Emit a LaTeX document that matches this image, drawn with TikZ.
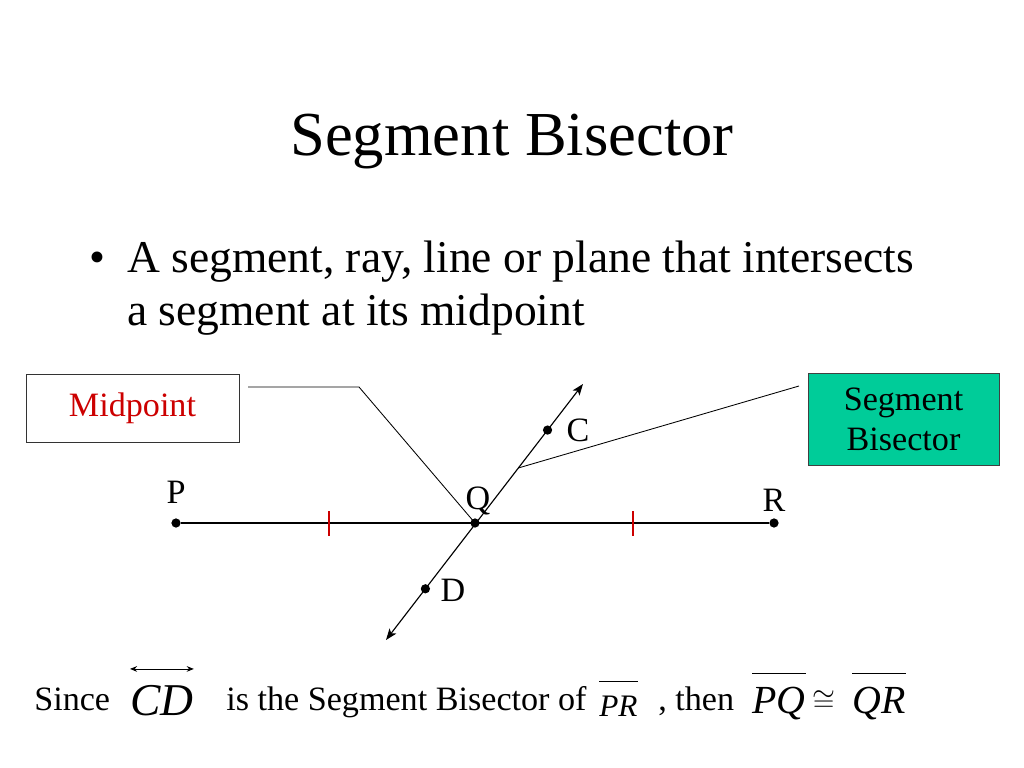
\documentclass[tikz,border=0pt]{standalone}
\usepackage{fontspec}
\setmainfont{Liberation Serif}
\usetikzlibrary{arrows.meta,calc}
\definecolor{bisteal}{RGB}{0,204,153}
\definecolor{midred}{RGB}{204,0,0}
\begin{document}
\begin{tikzpicture}[x=0.703125pt, y=-0.703125pt, >={Stealth[length=8pt,width=6pt,inset=2pt]},
    lbl/.style={font=\fontsize{24}{28}\selectfont, anchor=base, inner sep=0},
    txt/.style={font=\fontsize{24}{28}\selectfont, anchor=base west, inner sep=0},
    dot/.style={circle, fill, inner sep=0, minimum size=6.5pt}]
      % \draw[help lines] (0,0) grid[step=100] (1024,768);
      \useasboundingbox (0,0) rectangle (1024,768);
      \node[anchor=base, font=\fontsize{44}{50}\selectfont] (title) at (512,156) {Segment Bisector};
      \node[anchor=base, font=\fontsize{32}{38}\selectfont, inner sep=0] (bullet) at (97,273) {•};
      \node[anchor=base west, font=\fontsize{32}{38}\selectfont, inner sep=0] (line1) at (127,273) {A segment, ray, line or plane that intersects};
      \node[anchor=base west, font=\fontsize{32}{38}\selectfont, inner sep=0] (line2) at (127,325) {a segment at its midpoint};
      % the segment PR
      \node[dot] (P) at (176,523) {};
      \node[dot] (Q) at (475,523) {};
      \node[dot] (R) at (774,523) {};
      \draw[line width=0.8pt] (P) -- (R);
      \draw[draw=midred, line width=0.8pt] (329,511) -- (329,536) (633,511) -- (633,536);
      \node[lbl] at (176,503) {P};
      \node[lbl] at (478,509) {Q};
      \node[lbl] at (774,511) {R};
      % the bisector CD
      \coordinate (Ctip) at (583,384);
      \coordinate (Dtip) at (386,640);
      \draw[line width=0.8pt, <->] (Dtip) -- (Ctip);
      \node[dot] (C) at ($(Ctip)!0.18!(Dtip)$) {};
      \node[dot] (D) at ($(Ctip)!0.80!(Dtip)$) {};
      \node[lbl] at (578,441) {C};
      \node[lbl] at (453,601) {D};
      % callouts
      \node[draw=black!80, line width=0.6pt, minimum width=149.8pt, minimum height=47.8pt,
            font=\fontsize{24}{28}\selectfont, text=midred] (midbox) at (132.5,408) {Midpoint};
      \coordinate (m1) at (248,387);
      \coordinate (m2) at (359,387);
      \draw[line width=0.6pt] (m1) -- (m2) -- (Q.center);
      \node[draw=black!75, fill=bisteal, line width=0.6pt, minimum width=134.3pt, minimum height=64.7pt,
            align=center, font=\fontsize{24}{28}\selectfont] (bisbox) at (903.5,419) {Segment\\Bisector};
      \coordinate (s1) at (799,386);
      \coordinate (s2) at ($(Ctip)!0.328!(Dtip)$);
      \draw[line width=0.6pt] (s1) -- (s2);
      % the statement
      \node[txt] (since) at (34,710) {Since};
      \node[txt, font=\fontsize{32}{38}\selectfont\itshape] (CD) at (130,715) {CD};
      \draw[<->, line width=0.6pt, >={Stealth[length=5pt,width=4pt]}] ([yshift=11pt]CD.north west) -- ([yshift=11pt]CD.north east);
      \node[txt] (is) at (226,710) {is the Segment Bisector of};
      \node[txt, font=\fontsize{22}{26}\selectfont\itshape] (PR) at (599,716) {PR};
      \draw[line width=0.6pt] ([yshift=10pt]PR.north west) -- ([yshift=10pt]PR.north east);
      \node[txt] (then) at (658,710) {, then};
      \node[txt, font=\fontsize{28}{34}\selectfont\itshape] (PQ) at (752,713) {PQ};
      \node[txt, font=\fontsize{21}{25}\selectfont] (cong) at (812,711) {$\cong$};
      \node[txt, font=\fontsize{28}{34}\selectfont\itshape] (QR) at (852,713) {QR};
      \draw[line width=0.6pt] ([yshift=9pt]PQ.north west) -- ([yshift=9pt]PQ.north east);
      \draw[line width=0.6pt] ([yshift=9pt]QR.north west) -- ([yshift=9pt]QR.north east);
\end{tikzpicture}
\end{document}
